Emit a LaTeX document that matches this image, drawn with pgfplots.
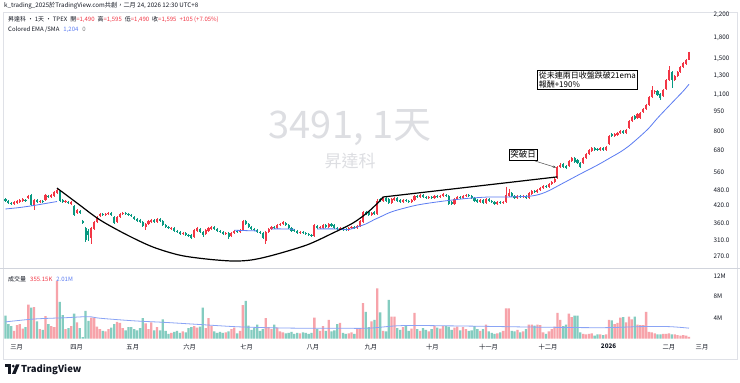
\documentclass[border=0pt]{standalone}
\usepackage{fontspec}
\setmainfont{Noto Sans CJK TC}
\usepackage{pgfplots}
\pgfplotsset{compat=1.18}
\usepackage{pgfplotstable}
\usetikzlibrary{arrows.meta}
\definecolor{upc}{HTML}{F23645}
\definecolor{dnc}{HTML}{089981}
\definecolor{volup}{HTML}{F7A3AA}
\definecolor{voldn}{HTML}{84CCC0}
\definecolor{emac}{HTML}{5B7CF2}
\definecolor{volma}{HTML}{8AA4F5}
\definecolor{tickc}{HTML}{131722}
\definecolor{sepc}{HTML}{D1D4DC}
\definecolor{wm}{HTML}{DDDEE2}
\newcommand{\fs}[1]{\fontsize{#1}{#1}\selectfont}

\pgfplotstableread{
x o h l c v
0 443.5 447.5 432 436 4.4
1 436 440 425 428.5 2.8
2 428.5 432 421 425 2.4
3 425 436 421 432 1.5
4 428.5 440 425 436 2.6
5 432 443.5 428.5 440 2.8
6 436 447.5 432 443.5 1.9
7 440 443.5 432 436 2.2
8 447.5 459.5 443.5 455.5 6.5
9 459.5 463.5 417.5 421 5.9
10 417.5 443.5 403 440 6.0
11 440 443.5 428.5 432 3.3
12 432 440 428.5 436 1.8
13 436 440 428.5 432 1.7
14 440 463.5 436 459.5 4.3
15 455.5 459.5 447.5 451.5 2.8
16 451.5 463.5 447.5 459.5 2.4
17 455.5 475.5 451.5 471.5 2.2
18 467.5 488 463.5 480 11.0
19 475.5 480 432 436 7.0
20 440 443.5 428.5 432 4.5
21 432 440 428.5 436 1.8
22 432 436 425 428.5 2.0
23 425 436 421 432 2.4
24 417.5 421 382.5 386 4.8
25 393 406.5 389.5 403 3.1
26 400 403 389.5 393 2.0
27 366.5 370 357 360 0.3
28 345 348 305.5 310.5 5.3
29 336 342 308 324.5 3.4
30 316 348 300 345 4.0
31 342 366.5 339 363.5 4.0
32 363.5 382.5 360 379.5 2.3
33 382.5 393 379.5 389.5 1.8
34 389.5 393 382.5 386 1.5
35 386 393 382.5 389.5 1.4
36 389.5 396.5 386 393 1.8
37 393 396.5 382.5 386 2.1
38 379.5 382.5 357 360 2.8
39 363.5 382.5 360 379.5 3.2
40 379.5 393 376 389.5 3.0
41 389.5 396.5 386 393 2.0
42 393 396.5 386 389.5 1.6
43 389.5 393 382.5 386 2.2
44 386 389.5 379.5 382.5 2.2
45 379.5 382.5 370 373 1.8
46 373 376 363.5 366.5 1.6
47 370 373 360 363.5 2.0
48 363.5 366.5 348 351 3.9
49 348 360 339 357 2.9
50 357 370 354 366.5 1.8
51 363.5 373 360 370 3.1
52 370 373 360 363.5 1.6
53 363.5 376 360 373 2.2
54 373 376 363.5 366.5 1.6
55 366.5 370 351 354 3.7
56 354 357 345 348 1.5
57 348 351 342 345 0.9
58 342 348 339 345 1.1
59 345 348 333 336 1.3
60 336 339 330 333 1.5
61 333 336 324.5 327.5 1.1
62 327.5 333 324.5 330 1.4
63 330 333 321.5 324.5 1.2
64 324.5 327.5 319 321.5 2.0
65 324.5 327.5 313.5 316 2.2
66 319 342 316 339 2.4
67 336 348 333 345 2.1
68 342 345 330 333 2.3
69 333 336 319 324.5 5.9
70 327.5 342 324.5 339 2.0
71 336 348 333 345 3.9
72 342 351 339 348 2.4
73 348 351 339 342 1.4
74 342 345 333 336 1.1
75 336 339 330 333 1.3
76 333 336 324.5 327.5 1.1
77 327.5 333 324.5 330 1.2
78 330 333 313.5 319 1.4
79 321.5 333 319 330 1.8
80 330 339 327.5 336 2.1
81 336 339 330 333 1.0
82 333 342 330 339 1.5
83 339 370 336 366.5 6.4
84 366.5 370 354 357 7.2
85 357 360 345 348 2.5
86 348 351 339 342 1.7
87 342 345 336 339 2.1
88 339 342 330 333 2.7
89 333 336 327.5 330 1.5
90 330 333 313.5 316 1.8
91 308 336 300 333 3.9
92 333 345 330 342 2.2
93 342 351 339 348 1.8
94 348 351 342 345 2.7
95 345 357 342 354 2.1
96 354 360 351 357 1.4
97 357 366.5 354 363.5 1.2
98 360 363.5 351 354 1.0
99 354 357 342 345 1.1
100 345 348 333 336 1.3
101 339 342 333 336 0.9
102 336 339 327.5 330 1.1
103 330 336 327.5 333 1.0
104 333 336 327.5 330 1.2
105 330 333 324.5 327.5 1.1
106 327.5 330 321.5 324.5 0.9
107 324.5 327.5 319 321.5 1.1
108 321.5 357 319 354 4.0
109 351 354 342 345 1.8
110 345 351 342 348 1.5
111 345 357 342 354 2.4
112 354 357 345 348 1.5
113 348 360 345 357 3.6
114 357 360 348 351 1.4
115 354 357 342 345 1.6
116 345 348 339 342 2.8
117 342 348 339 345 3.0
118 345 348 336 339 1.1
119 342 345 336 339 0.9
120 339 348 336 345 1.0
121 345 351 342 348 1.2
122 348 351 342 345 0.9
123 345 354 342 351 2.0
124 351 370 348 366.5 2.0
125 363.5 400 360 396.5 6.8
126 396.5 400 386 389.5 5.1
127 396.5 400 382.5 386 2.2
128 386 396.5 382.5 393 3.3
129 396.5 400 386 389.5 3.6
130 389.5 443.5 386 436 9.6
131 443.5 447.5 432 436 5.0
132 436 451.5 432 447.5 1.5
133 447.5 451.5 432 436 1.4
134 443.5 447.5 425 428.5 7.4
135 428.5 447.5 425 443.5 4.2
136 440 451.5 436 447.5 4.2
137 447.5 451.5 432 436 2.0
138 440 443.5 428.5 432 1.7
139 432 443.5 428.5 440 2.2
140 440 443.5 432 436 2.4
141 436 440 428.5 432 1.5
142 432 443.5 428.5 440 1.9
143 440 459.5 436 455.5 4.9
144 455.5 459.5 447.5 451.5 1.8
145 451.5 463.5 447.5 459.5 1.5
146 459.5 463.5 447.5 451.5 2.0
147 451.5 455.5 443.5 447.5 1.7
148 447.5 455.5 443.5 451.5 1.4
149 451.5 455.5 443.5 447.5 1.8
150 447.5 459.5 443.5 455.5 2.4
151 455.5 459.5 447.5 451.5 2.1
152 451.5 459.5 447.5 455.5 1.9
153 455.5 467.5 451.5 463.5 2.4
154 459.5 463.5 451.5 455.5 2.4
155 455.5 459.5 421 425 2.3
156 432 436 421 425 1.7
157 425 447.5 421 443.5 2.1
158 443.5 455.5 440 451.5 2.3
159 451.5 455.5 443.5 447.5 1.6
160 447.5 459.5 443.5 455.5 2.2
161 455.5 463.5 451.5 459.5 1.8
162 459.5 463.5 451.5 455.5 1.5
163 455.5 459.5 443.5 447.5 1.6
164 447.5 451.5 432 436 2.4
165 440 443.5 428.5 432 1.8
166 432 443.5 428.5 440 1.5
167 440 443.5 425 428.5 1.8
168 428.5 447.5 425 443.5 2.7
169 443.5 447.5 432 436 1.4
170 436 440 428.5 432 1.1
171 432 436 421 425 0.9
172 425 436 421 432 1.0
173 432 436 425 428.5 1.2
174 428.5 436 425 432 1.5
175 432 492.5 428.5 459.5 5.8
176 455.5 484 451.5 467.5 5.8
177 467.5 471.5 451.5 455.5 1.5
178 455.5 459.5 443.5 447.5 1.4
179 447.5 459.5 443.5 455.5 1.7
180 455.5 459.5 447.5 451.5 1.2
181 451.5 459.5 447.5 455.5 1.4
182 455.5 459.5 443.5 447.5 1.8
183 447.5 471.5 443.5 467.5 2.7
184 463.5 480 459.5 475.5 2.7
185 475.5 480 467.5 471.5 2.5
186 471.5 484 467.5 480 2.7
187 480 492.5 475.5 488 2.6
188 488 501 484 496.5 1.2
189 496.5 501 488 492.5 0.9
190 492.5 509.5 488 505 1.4
191 505 518.5 501 514 1.8
192 514 533 509.5 528.5 2.3
193 533 591 528.5 586 4.9
194 586 607 581 596 3.6
195 601.5 607 581 586 2.4
196 591 596 576 581 2.7
197 591 623 586 617.5 4.8
198 617.5 640 612 634 4.1
199 634 640 607 612 4.4
200 623 628.5 601.5 607 4.4
201 607 612 581 586 1.2
202 607 640 601.5 634 0.9
203 634 662.5 628.5 656.5 0.8
204 656.5 685.5 651 680 0.9
205 674 697.5 668 691.5 1.0
206 691.5 697.5 674 680 0.6
207 685.5 691.5 674 680 0.8
208 680 697.5 674 691.5 0.8
209 691.5 697.5 674 680 0.7
210 680 704 674 697.5 0.8
211 715.5 774 710 767 3.6
212 781 788 760.5 767 3.5
213 767 788 760.5 781 2.8
214 774 795 767 788 3.0
215 788 809 781 802 4.0
216 802 809 781 788 4.1
217 788 816 781 809 3.1
218 823 882 816 874 4.2
219 874 913 867 905 3.7
220 913 921 882 889.5 4.2
221 897 937 889.5 929 2.7
222 897 945 889.5 937 2.6
223 945 979 937 971 2.6
224 971 1015 962 1005 5.1
225 1005 1085 995 1080 1.3
226 1080 1185 1070 1145 1.2
227 1125 1145 1105 1135 1.0
228 1135 1145 1085 1095 0.8
229 1105 1115 1050 1070 0.8
230 1085 1155 1075 1145 0.9
231 1155 1260 1145 1250 0.9
232 1250 1410 1240 1365 1.0
233 1340 1350 1165 1250 0.8
234 1250 1305 1240 1295 0.8
235 1295 1350 1280 1340 0.7
236 1340 1410 1330 1400 0.6
237 1400 1460 1385 1450 0.7
238 1435 1500 1425 1490 0.6
239 1490 1595 1490 1595 0.355
}\candles

\begin{document}
\begin{tikzpicture}
\useasboundingbox (0pt,0pt) rectangle (740pt,383pt);
\fill[white] (0pt,0pt) rectangle (740pt,383pt);
\draw[sepc!70, line width=0.5pt] (3pt,24pt) rectangle (737pt,371pt);

% watermark
\node[text=wm, font=\fs{38}] at (350pt,255pt) {3491, 1天};
\node[text=wm, font=\fs{17}] at (350pt,222pt) {昇達科};

\begin{axis}[
  at={(0pt,115pt)}, anchor=south west,
  width=697pt, height=255pt, scale only axis,
  xmin=-1.92, xmax=241.8,
  ymode=log, ymin=243.4, ymax=2238.6,
  axis line style={draw=none},
  major tick length=0pt, minor tick length=0pt,
  xtick=\empty,
  ytick={270,310,360,420,480,560,680,800,950,1100,1300,1500,1800,2200},
  yticklabels={270.0,310.0,360.0,420.0,480.0,560,680,800,950,{1,100},{1,300},{1,500},{1,800},{2,200}},
  yticklabel pos=right,
  yticklabel style={anchor=west, xshift=13pt, font=\fs{6.3}, text=tickc},
  /pgf/number format/assume math mode=true,
]
% wicks
\addplot[draw=none, mark=none, error bars/.cd, y dir=both, y explicit, error mark=none,
  error bar style={draw=upc, line width=0.6pt}]
  table[x=x, y expr={\thisrow{c}<\thisrow{o} ? nan : \thisrow{h}},
        y error plus expr={0}, y error minus expr={\thisrow{h}-\thisrow{l}}] {\candles};
\addplot[draw=none, mark=none, error bars/.cd, y dir=both, y explicit, error mark=none,
  error bar style={draw=dnc, line width=0.6pt}]
  table[x=x, y expr={\thisrow{c}<\thisrow{o} ? \thisrow{h} : nan},
        y error plus expr={0}, y error minus expr={\thisrow{h}-\thisrow{l}}] {\candles};
% bodies
\addplot[draw=none, mark=none, error bars/.cd, y dir=both, y explicit, error mark=none,
  error bar style={draw=upc, line width=2.1pt}]
  table[x=x, y expr={\thisrow{c}<\thisrow{o} ? nan : \thisrow{c}},
        y error plus expr={0}, y error minus expr={\thisrow{c}-\thisrow{o}}] {\candles};
\addplot[draw=none, mark=none, error bars/.cd, y dir=both, y explicit, error mark=none,
  error bar style={draw=dnc, line width=2.1pt}]
  table[x=x, y expr={\thisrow{c}<\thisrow{o} ? \thisrow{o} : nan},
        y error plus expr={0}, y error minus expr={\thisrow{o}-\thisrow{c}}] {\candles};
% colored EMA (visible rising segments)
\addplot[emac, line width=0.8pt, smooth] coordinates {(0,406.7) (5,412) (10,419.5) (15,428.5) (18,434)};
\addplot[emac, line width=0.8pt, smooth] coordinates {(80,338) (84,337) (88,336)};
\addplot[emac, line width=0.8pt, smooth] coordinates {(93,342) (97,342) (101,341)};
\addplot[emac, line width=0.8pt, smooth] coordinates {(109,342) (115,342) (120,340) (123,348) (126,357) (129,371) (131,379.5) (134,393) (137,403) (144,421) (152,434) (161,445.5) (169,451.5) (175,451.5) (184,455.5) (189,471.5) (195,509.5) (201,551.7) (207,596) (212,640) (215,668) (218,704) (222,767) (225,823) (228,897) (231,971) (234,1050) (237,1135) (239,1204)};
% cup and handle
\addplot[black, line width=1.2pt, smooth] coordinates {(18,488) (25,428.5) (33,370) (42.5,324.5) (51.6,292) (61,272) (70.5,263) (79.5,258.6) (86,261) (93.5,272) (105.4,297.5) (114.5,330) (121.5,360) (126.4,393) (130.5,432) (132,451.4)};
\addplot[black, line width=1.2pt] coordinates {(132,451.4) (193,537.9)};
\end{axis}

\draw[sepc, line width=1pt] (0pt,114pt) -- (740pt,114pt);

\begin{axis}[
  at={(0pt,44.3pt)}, anchor=south west,
  width=697pt, height=69.5pt, scale only axis,
  xmin=-1.92, xmax=241.8, ymin=0, ymax=13.24,
  axis line style={draw=none},
  major tick length=0pt,
  ytick={4,8,12}, yticklabels={4M,8M,12M},
  yticklabel pos=right,
  yticklabel style={anchor=west, xshift=13pt, font=\fs{6.3}, text=tickc},
  xtick={3.9,24.9,44.5,64.4,84.3,107.5,127.8,149.3,168.9,189.7,210.9,232},
  xticklabels={三月,四月,五月,六月,七月,八月,九月,十月,十一月,十二月,\textbf{2026},二月},
  xticklabel style={font=\fs{6.3}, text=tickc, yshift=-2pt},
  clip=false,
]
\addplot[ybar, bar width=2.3pt, bar shift=0pt, fill=volup, draw=none]
  table[x=x, y expr={\thisrow{c}<\thisrow{o} ? nan : \thisrow{v}}] {\candles};
\addplot[ybar, bar width=2.3pt, bar shift=0pt, fill=voldn, draw=none]
  table[x=x, y expr={\thisrow{c}<\thisrow{o} ? \thisrow{v} : nan}] {\candles};
\addplot[volma, line width=0.8pt, smooth] coordinates {(0,3.2) (10,3.75) (21,4.0) (29,4.2) (33,3.9) (45,3.4) (56,3.1) (68,2.7) (80,2.3) (91,2.1) (103,2.0) (115,2.0) (127,2.0) (139,2.5) (162,2.4) (186,2.2) (209,2.1) (222,2.3) (232,2.3) (239,2.01)};
\end{axis}
\node[font=\fs{6.3}, text=tickc] at (702pt,36pt) {三月};

% headers
\node[anchor=west, font=\fs{6.2}, text=tickc, inner sep=0pt] at (4pt,377pt) {k\_trading\_2025於TradingView.com共創，二月 24, 2026 12:30 UTC+8};
\node[anchor=west, font=\fs{6}, text=tickc, inner sep=0pt] at (8pt,363pt) {昇達科 · 1天 · TPEX\hspace{3pt}開{\color{upc}=1,490}\hspace{3pt}高{\color{upc}=1,595}\hspace{3pt}低{\color{upc}=1,490}\hspace{3pt}收{\color{upc}=1,595}\hspace{3pt}{\color{upc}+105 (+7.05\%)}};
\node[anchor=west, font=\fs{6}, text=tickc, inner sep=0pt] at (8pt,353pt) {Colored EMA /SMA\hspace{4pt}{\color{emac}1,204}\hspace{4pt}{\color{gray}0}};
\node[anchor=west, font=\fs{6}, text=tickc, inner sep=0pt] at (8pt,104pt) {成交量\hspace{4pt}{\color{upc}355.15K}\hspace{4pt}{\color{emac}2.01M}};

% annotations
\node[draw=black, fill=white, line width=0.5pt, inner sep=1.5pt, font=\fs{8.5}] at (523pt,228.5pt) {突破日};
\draw[-{Stealth[length=3pt,width=2.5pt]}, line width=0.5pt, black!70] (535pt,222pt) -- (556pt,215.5pt);
\node[draw=black, fill=white, line width=0.5pt, inner sep=1.5pt, anchor=north west, align=left, font=\fontsize{8}{9}\selectfont] at (537pt,313pt) {從未連兩日收盤跌破21ema\\報酬+190\%};

% logo
\fill[tickc] (5pt,15.5pt) rectangle (11pt,18.5pt);
\fill[tickc] (8pt,9pt) rectangle (11pt,18.5pt);
\fill[tickc] (13.3pt,16.8pt) circle (1.5pt);
\fill[tickc] (16pt,18.5pt) -- (19.5pt,18.5pt) -- (15.5pt,9pt) -- (12pt,9pt) -- cycle;
\node[anchor=west, font=\bfseries\fs{9.5}, text=tickc, inner sep=0pt] at (21pt,13.5pt) {TradingView};
\end{tikzpicture}
\end{document}
